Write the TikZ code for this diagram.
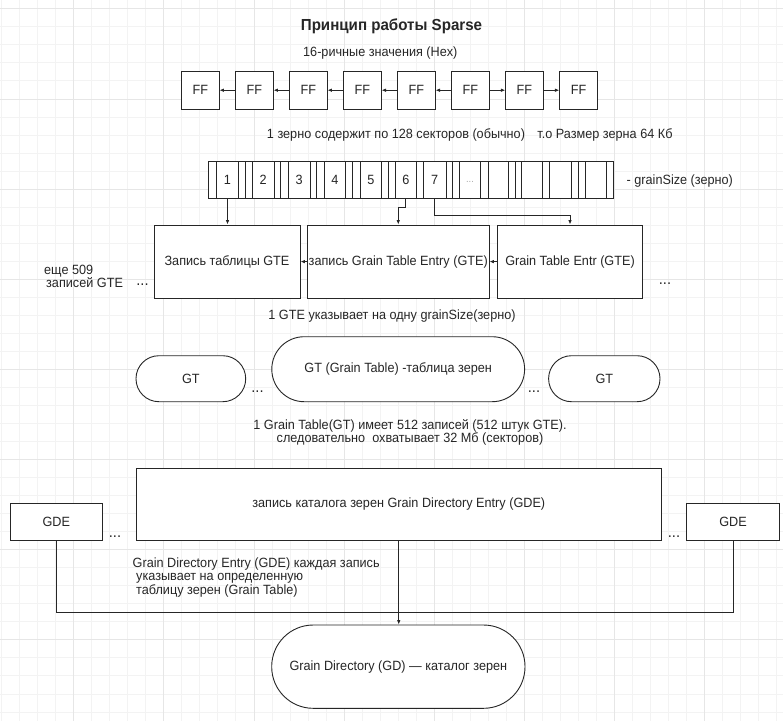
\documentclass[tikz,border=0pt]{standalone}
\usepackage{fontspec}
\setmainfont{Liberation Sans}[FakeStretch=0.945]
\usetikzlibrary{arrows.meta,calc}
\definecolor{ink}{HTML}{262626}
\definecolor{gridminor}{HTML}{F3F3F3}
\definecolor{gridmajor}{HTML}{E6E6E6}
\definecolor{dotgray}{HTML}{A8A8A8}
\begin{document}
\begin{tikzpicture}[x=1pt,y=-1pt,
  every node/.style={font=\fontsize{13.4}{13.4}\selectfont, text=ink},
  box/.style={draw=ink, fill=white, line width=0.9pt, inner sep=0pt},
  ffbox/.style={box, minimum width=37.3pt, minimum height=38.3pt},
  gtebox/.style={box, minimum height=73.3pt},
  lab/.style={inner sep=0.5pt},
  multi/.style={inner sep=0pt, font=\fontsize{13.4}{13.4}\selectfont},
  conn/.style={draw=ink, line width=0.9pt},
  arr/.style={conn, -{Latex[length=4.5pt,width=3.6pt]}},
  dots/.style={inner sep=0pt, font=\fontsize{15.5}{15.5}\selectfont}
]
\useasboundingbox (0,0) rectangle (783,721);
% background grid
\foreach \i in {0,...,43}{\draw[gridminor,line width=1pt] ({1.6+18.03*\i},0) -- ({1.6+18.03*\i},721);}
\foreach \j in {0,...,39}{\draw[gridminor,line width=1pt] (0,{8.85+18.03*\j}) -- (783,{8.85+18.03*\j});}
\foreach \i in {4,9,...,43}{\draw[gridmajor,line width=1pt] ({1.6+18.03*\i},0) -- ({1.6+18.03*\i},721);}
\foreach \j in {0,5,...,39}{\draw[gridmajor,line width=1pt] (0,{8.85+18.03*\j}) -- (783,{8.85+18.03*\j});}

% title
\node[lab, font=\bfseries\fontsize{16}{16}\selectfont] (title) at (391.5,26.7) {Принцип работы Sparse};
\node[lab] (hex) at (380.3,53.3) {16-ричные значения (Hex)};

% FF row
\foreach \k in {1,...,8}{\node[ffbox] (ff\k) at ({200.35+54.02*(\k-1)},90.2) {FF};}
\draw[arr] (ff2.west) -- (ff1.east);
\draw[arr] (ff3.west) -- (ff2.east);
\draw[arr] (ff4.west) -- (ff3.east);
\draw[arr] (ff5.west) -- (ff4.east);
\draw[arr] (ff6.west) -- (ff5.east);
\draw[arr] (ff6.east) -- (ff7.west);
\draw[arr] (ff7.east) -- (ff8.west);

% grain text
\node[lab] (t1a) at (396,135) {1 зерно содержит по 128 секторов (обычно)};
\node[lab] (t1b) at (605,135) {т.о Размер зерна 64 Кб};

% strip
\node[box, minimum width=404.7pt, minimum height=36.6pt] (strip) at (410.65,180) {};
\foreach \x in {216.7,238.3,245,252.3,274,280.7,288.3,310,316.7,324,345.7,352.3,360,381.7,388.3,395.7,416,423.3,446,452.7,459.3,480.7,488.3,508.3,515,521.7,542.7,549.3,571.7,578.3,585.7,606}
  {\draw[conn] (\x,161.7) -- (\x,198.3);}
\node[lab] (c1) at (227.5,180) {1};
\node[lab] (c2) at (263.2,180) {2};
\node[lab] (c3) at (299.2,180) {3};
\node[lab] (c4) at (334.9,180) {4};
\node[lab] (c5) at (370.9,180) {5};
\node[lab] (c6) at (405.9,180) {6};
\node[lab] (c7) at (434.7,180) {7};
\node[lab, text=dotgray, font=\fontsize{10}{10}\selectfont] (cdots) at (470,182) {...};
\node[lab, anchor=west] (gs) at (626,181) {- grainSize (зерно)};

% GTE boxes
\node[gtebox, minimum width=146pt] (gte1) at (227,261.6) {Запись таблицы GTE};
\node[gtebox, minimum width=181.5pt] (gte2) at (398.25,261.6) {запись Grain Table Entry (GTE)};
\node[gtebox, minimum width=145pt] (gte3) at (570,261.6) {Grain Table Entr (GTE)};
\draw[arr] (strip.south -| c1) -- (gte1.north -| c1);
\draw[arr] (strip.south -| c6) -- ++(0,8.4) -| (gte2.north);
\draw[arr] (strip.south -| c7) -- ++(0,16.2) -| (gte3.north);
\draw[arr] (gte2.west) -- (gte1.east);
\draw[arr] (gte3.west) -- (gte2.east);
\node[multi, align=left, anchor=north west] (more) at (44,264.5) {еще 509\\\hspace{2pt}записей GTE};
\node[dots] (d1) at (142.5,284.5) {...};
\node[dots] (d2) at (665,284) {...};
\node[lab] (t2) at (392,316) {1 GTE указывает на одну grainSize(зерно)};

% GT
\node[box, minimum width=109.7pt, minimum height=46pt, rounded corners=22.9pt] (gtL) at (190.85,378.7) {GT};
\node[box, minimum width=252.8pt, minimum height=65pt, rounded corners=32.4pt] (gtC) at (398.2,369.2) {GT (Grain Table) -таблица зерен};
\node[box, minimum width=111.4pt, minimum height=46pt, rounded corners=22.9pt] (gtR) at (604.3,378.7) {GT};
\node[dots] (d3) at (257.5,391.7) {...};
\node[dots] (d4) at (534,391.7) {...};
\node[multi, align=center] (t3) at (410,432.5) {1 Grain Table(GT) имеет 512 записей (512 штук GTE).\\следовательно\ \ охватывает 32 Мб (секторов)};

% GDE
\node[box, minimum width=524.5pt, minimum height=72.4pt] (gde) at (398.75,504.5) {запись каталога зерен Grain Directory Entry (GDE)};
\node[box, minimum width=92.5pt, minimum height=37.4pt] (gdeL) at (56.25,522) {GDE};
\node[box, minimum width=93pt, minimum height=37.4pt] (gdeR) at (733,522) {GDE};
\node[dots] (d5) at (115,537) {...};
\node[dots] (d6) at (674,537) {...};
\node[multi, align=left, anchor=north west] (t4) at (132.5,557.5) {Grain Directory Entry (GDE) каждая запись\\\hspace{3.5pt}указывает на определенную\\\hspace{3.5pt}таблицу зерен (Grain Table)};

% GD
\node[box, minimum width=253.3pt, minimum height=83.3pt, rounded corners=41.5pt] (gd) at (398.35,666.65) {Grain Directory (GD) — каталог зерен};
\coordinate (jn) at (398.5,612.7);
\draw[conn] (gdeL.south) |- (jn) -| (gdeR.south);
\draw[arr] (gde.south) -- (gde.south |- gd.north);
\end{tikzpicture}
\end{document}
